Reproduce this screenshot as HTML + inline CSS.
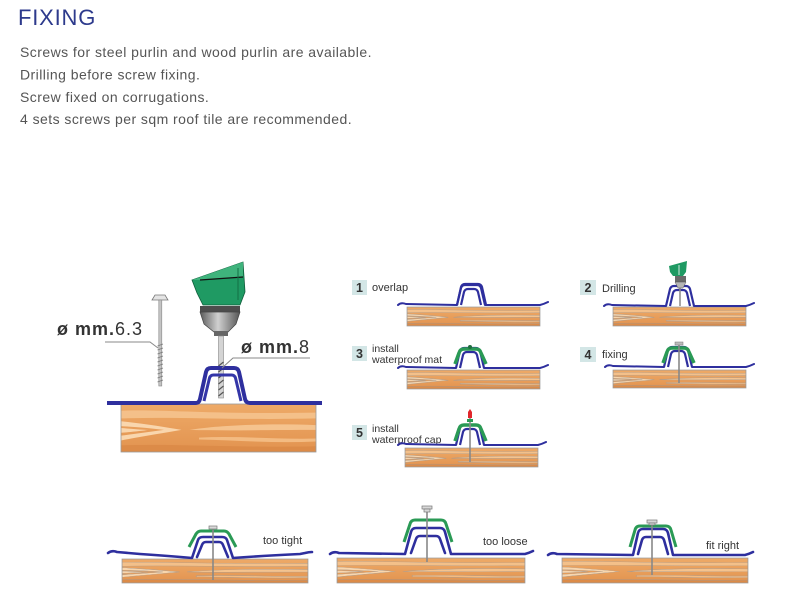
<!DOCTYPE html>
<html><head><meta charset="utf-8"><style>
html,body{margin:0;padding:0;background:#fff;}
svg{display:block;}
</style></head><body>
<svg width="800" height="600" viewBox="0 0 800 600" xmlns="http://www.w3.org/2000/svg" font-family="'Liberation Sans', Arial, sans-serif">
<defs>
<linearGradient id="wg" x1="0" y1="0" x2="0" y2="1">
<stop offset="0" stop-color="#eeaa68"/><stop offset="1" stop-color="#e2934f"/>
</linearGradient>
<linearGradient id="chk" x1="0" y1="0" x2="1" y2="0">
<stop offset="0" stop-color="#5a5a5a"/><stop offset="0.45" stop-color="#d0d0d0"/><stop offset="1" stop-color="#555"/>
</linearGradient>
<symbol id="wood" viewBox="0 0 200 50" preserveAspectRatio="none">
<rect x="0" y="0" width="200" height="50" fill="url(#wg)"/>
<path d="M0,7 C40,5 90,11 200,9 L200,15 C120,17 60,13 0,15 Z" fill="#f6c794" opacity="0.8"/>
<path d="M0,18 C20,20 45,24 62,27 C45,30 20,34 0,38 L0,33 C15,31 30,29 44,27 C30,25 15,24 0,23 Z" fill="#f9d6ad"/>
<path d="M0,25 C12,26 22,27 28,27 C22,28 12,29 0,30 Z" fill="#f9d6ad"/>
<path d="M70,27 C100,22 150,20 200,22 L200,27 C150,27 110,28 70,27 Z" fill="#f5c38e"/>
<path d="M80,35 C120,33 160,37 200,36 L200,39 C160,41 120,38 80,37 Z" fill="#f3bb82"/>
<path d="M0,43 C60,41 120,46 200,44 L200,50 L0,50 Z" fill="#dc8b48"/>
</symbol>
<g id="r" fill="none" stroke="#2e2f9e" stroke-width="2.2" stroke-linejoin="round">
<path d="M-14,0 L-10,-17 Q-9,-20 -6,-20 L6,-20 Q9,-20 10,-17 L14,0"/>
<path d="M-10,0 L-7,-13 Q-6,-16 -3,-16 L3,-16 Q6,-16 7,-13 L10,0"/>
</g>
</defs>

<!-- Header text -->
<text x="18" y="25" font-size="22" fill="#2d3a8c" letter-spacing="0.8">FIXING</text>
<g font-size="14" fill="#555" letter-spacing="0.45">
<text x="20" y="57">Screws for steel purlin and wood purlin are available.</text>
<text x="20" y="79.5">Drilling before screw fixing.</text>
<text x="20" y="102">Screw fixed on corrugations.</text>
<text x="20" y="124">4 sets screws per sqm roof tile are recommended.</text>
</g>

<!-- ===== MAIN FIGURE ===== -->
<use href="#wood" x="121" y="404" width="195" height="48"/>
<rect x="121" y="404" width="195" height="48" fill="none" stroke="#9a9a9a" stroke-width="0.8"/>
<!-- screw left -->
<polygon points="152,300 155,295 165,295 168,300" fill="#e4e4e4" stroke="#777" stroke-width="0.8"/>
<rect x="158.8" y="300" width="3" height="86" fill="#c4c4c4" stroke="#888" stroke-width="0.6"/>
<g stroke="#777" stroke-width="0.8">
<line x1="157.5" y1="346" x2="163" y2="344"/><line x1="157.5" y1="350" x2="163" y2="348"/><line x1="157.5" y1="354" x2="163" y2="352"/><line x1="157.5" y1="358" x2="163" y2="356"/><line x1="157.5" y1="362" x2="163" y2="360"/><line x1="157.5" y1="366" x2="163" y2="364"/><line x1="157.5" y1="370" x2="163" y2="368"/><line x1="157.5" y1="374" x2="163" y2="372"/><line x1="157.5" y1="378" x2="163" y2="376"/><line x1="157.5" y1="382" x2="163" y2="380"/>
</g>
<!-- leader 6.3 -->
<polyline points="105,342 150,342 158,348" fill="none" stroke="#888" stroke-width="1"/>
<text x="57" y="335" font-size="18" fill="#333" font-weight="bold" letter-spacing="1">ø mm.<tspan font-weight="normal">6.3</tspan></text>
<!-- drill -->
<polygon points="192,280 243,262 245,292 240,305 203,305 197,293" fill="#1f9a63" stroke="#0f5c3a" stroke-width="0.8"/>
<polygon points="192,280 243,262 243,277 200,280" fill="#3fb37c"/>
<line x1="200" y1="280" x2="243" y2="277" stroke="#111" stroke-width="1.2"/>
<line x1="238" y1="268" x2="238" y2="300" stroke="#137046" stroke-width="1"/>
<rect x="200" y="306" width="40" height="6" fill="#4d4d4d"/>
<polygon points="200,312 240,312 236,324 228,332 214,332 204,324" fill="url(#chk)" stroke="#444" stroke-width="0.7"/>
<rect x="214" y="331" width="14" height="5" fill="#666"/>
<rect x="218.5" y="336" width="5" height="62" fill="#d4d4d4" stroke="#888" stroke-width="0.6"/>
<g stroke="#555" stroke-width="1.2">
<line x1="218.5" y1="366" x2="223.5" y2="362"/><line x1="218.5" y1="372" x2="223.5" y2="368"/><line x1="218.5" y1="378" x2="223.5" y2="374"/><line x1="218.5" y1="384" x2="223.5" y2="380"/><line x1="218.5" y1="390" x2="223.5" y2="386"/><line x1="218.5" y1="396" x2="223.5" y2="392"/>
</g>
<!-- main sheet -->
<path d="M107,403 L196,403 Q199,403 200,399 L206,372 Q207,368 211,368 L234,368 Q238,368 239,372 L245,399 Q246,403 250,403 L322,403" fill="none" stroke="#2e2f9e" stroke-width="4" stroke-linejoin="round"/>
<path d="M204,401 L209.5,378 Q210.5,375 213.5,375 L231.5,375 Q234.5,375 235.5,378 L241,401" fill="none" stroke="#3436a8" stroke-width="3" stroke-linejoin="round"/>
<!-- leader 8 -->
<polyline points="310,358 233,358 222,368" fill="none" stroke="#888" stroke-width="1"/>
<text x="241" y="353" font-size="18" fill="#333" font-weight="bold" letter-spacing="1">ø mm.<tspan font-weight="normal">8</tspan></text>

<!-- ===== SMALL PANELS ===== -->
<g font-size="11" fill="#333">
<rect x="352" y="280" width="15" height="15" fill="#d3e6e6"/><text x="359.5" y="292" text-anchor="middle" font-weight="bold" font-size="12.5">1</text>
<text x="372" y="291">overlap</text>
<rect x="580" y="280" width="16" height="15" fill="#d3e6e6"/><text x="588" y="292" text-anchor="middle" font-weight="bold" font-size="12.5">2</text>
<text x="602" y="292">Drilling</text>
<rect x="352" y="346" width="15" height="15" fill="#d3e6e6"/><text x="359.5" y="358" text-anchor="middle" font-weight="bold" font-size="12.5">3</text>
<text x="372" y="352" font-size="10.5">install</text><text x="372" y="363" font-size="10.5">waterproof mat</text>
<rect x="580" y="347" width="16" height="15" fill="#d3e6e6"/><text x="588" y="359" text-anchor="middle" font-weight="bold" font-size="12.5">4</text>
<text x="602" y="358">fixing</text>
<rect x="352" y="425" width="15" height="15" fill="#d3e6e6"/><text x="359.5" y="437" text-anchor="middle" font-weight="bold" font-size="12.5">5</text>
<text x="372" y="432" font-size="10.5">install</text><text x="372" y="443" font-size="10.5">waterproof cap</text>
</g>

<!-- woods -->
<g stroke="#9a9a9a" stroke-width="0.7" fill="none">
<use href="#wood" x="407" y="307" width="133" height="19"/><rect x="407" y="307" width="133" height="19"/>
<use href="#wood" x="613" y="307" width="133" height="19"/><rect x="613" y="307" width="133" height="19"/>
<use href="#wood" x="407" y="370" width="133" height="19"/><rect x="407" y="370" width="133" height="19"/>
<use href="#wood" x="613" y="370" width="133" height="18"/><rect x="613" y="370" width="133" height="18"/>
<use href="#wood" x="405" y="448" width="133" height="19"/><rect x="405" y="448" width="133" height="19"/>
</g>

<!-- sheets flat -->
<g fill="none" stroke="#2e2f9e" stroke-width="2" stroke-linecap="round">
<path d="M398,305 q3,-3 8,-1 L457,305 M485,305 L540,305 q4,-1 8,-3"/>
<path d="M604,306 q3,-3 8,-1 L666,306 M694,306 L746,306 q4,-1 8,-3"/>
<path d="M398,368 q3,-3 8,-1 L456,368 M484,368 L540,368 q4,-1 8,-3"/>
<path d="M605,367 q3,-3 8,-1 L664,367 M692,367 L746,367 q4,-1 8,-3"/>
<path d="M398,445 q3,-3 8,-1 L456,445 M484,445 L538,445 q4,-1 8,-3"/>
</g>

<!-- P1 overlap -->
<use href="#r" transform="translate(471,305)"/>
<path d="M457,305 L461,287 Q462,284 465,284 L478,284 Q481,284 482,287 L486,305" fill="none" stroke="#2e2f9e" stroke-width="2.2"/>

<!-- P2 drilling -->
<use href="#r" transform="translate(680,306)"/>
<line x1="680" y1="286" x2="680" y2="306" stroke="#888" stroke-width="1.5"/>
<rect x="675" y="276" width="11" height="6" fill="#6a6a6a"/>
<polygon points="675,282 686,282 683,288 678,288" fill="#b5b5b5" stroke="#555" stroke-width="0.5"/>
<polygon points="669,266 687,261 686,272 683,276 673,276 670,272" fill="#1f9a63"/>
<line x1="679" y1="265" x2="679" y2="275" stroke="#fff" stroke-width="0.8"/>

<!-- P3 mat -->
<use href="#r" transform="translate(470,368)"/>
<path d="M455,364 L459,353 Q460,349 464,349 L476,349 Q480,349 481,353 L486,364" fill="none" stroke="#2a9a55" stroke-width="3.5" stroke-linejoin="round"/>
<circle cx="470" cy="347" r="2" fill="#1f6e3e"/>

<!-- P4 fixing -->
<use href="#r" transform="translate(678,367)"/>
<path d="M663,363 L667,352 Q668,348 672,348 L684,348 Q688,348 689,352 L694,363" fill="none" stroke="#2a9a55" stroke-width="3.5" stroke-linejoin="round"/>
<line x1="679" y1="344" x2="679" y2="383" stroke="#888" stroke-width="1.6"/>
<rect x="675" y="342" width="8" height="3" fill="#bbb" stroke="#777" stroke-width="0.5"/>

<!-- P5 cap -->
<use href="#r" transform="translate(470,445)"/>
<path d="M455,441 L459,429 Q460,425 464,425 L476,425 Q480,425 481,429 L486,441" fill="none" stroke="#2a9a55" stroke-width="3.5" stroke-linejoin="round"/>
<line x1="470" y1="418" x2="470" y2="462" stroke="#888" stroke-width="1.6"/>
<rect x="467" y="419" width="6" height="3" fill="#2a9a55"/>
<polygon points="468,418 472,418 472,412 470,409 468,412" fill="#e0262b"/>

<!-- ===== BOTTOM ROW ===== -->
<g stroke="#9a9a9a" stroke-width="0.7" fill="none">
<use href="#wood" x="122" y="559" width="186" height="24"/><rect x="122" y="559" width="186" height="24"/>
<use href="#wood" x="337" y="558" width="188" height="25"/><rect x="337" y="558" width="188" height="25"/>
<use href="#wood" x="562" y="558" width="186" height="25"/><rect x="562" y="558" width="186" height="25"/>
</g>

<g fill="none" stroke="#2e2f9e" stroke-width="2.6" stroke-linejoin="round" stroke-linecap="round">
<path d="M108,553 q4,-3 9,-1 L140,554 Q170,556 192,558 L198,540 Q199,537 203,537 L222,537 Q226,537 227,540 L233,558 Q260,556 300,554 L305,553 q4,-1 7,-1"/>
<path d="M197,557 L202,545 Q203,542 206,542 L219,542 Q222,542 223,545 L228,557"/>
<path d="M330,554 q4,-3 9,-1 L405,554 L411,532 Q412,528 416,528 L440,528 Q444,528 445,532 L451,554 L525,554 q4,-1 8,-3"/>
<path d="M411,553 L416,539 Q417,536 420,536 L436,536 Q439,536 440,539 L445,553"/>
<path d="M548,555 q4,-3 9,-1 L633,555 L638,533 Q639,529 643,529 L663,529 Q667,529 668,533 L673,555 L745,555 q4,-1 8,-3"/>
<path d="M638,554 L642,540 Q643,537 646,537 L660,537 Q663,537 664,540 L668,554"/>
</g>

<g fill="none" stroke="#2a9a55" stroke-width="3" stroke-linejoin="round">
<path d="M189,547 L196,534 Q198,531 201,531 L224,531 Q227,531 229,534 L236,547"/>
<path d="M404,542 L410,524 Q411,520 415,520 L441,520 Q445,520 446,524 L452,542"/>
<path d="M630,547 L635,530 Q636,526 640,526 L666,526 Q670,526 671,530 L676,547"/>
</g>

<g stroke="#888" stroke-width="1.6">
<line x1="213" y1="528" x2="213" y2="580"/>
<line x1="427" y1="511" x2="427" y2="562"/>
<line x1="652" y1="523" x2="652" y2="575"/>
</g>
<g fill="#d8d8d8" stroke="#777" stroke-width="0.7">
<rect x="209" y="526" width="8" height="3"/>
<rect x="422" y="506" width="10" height="3"/><rect x="424" y="509" width="6" height="3"/>
<rect x="647" y="520" width="10" height="3"/><rect x="649" y="523" width="6" height="2"/>
</g>

<g font-size="11" fill="#333">
<text x="263" y="544">too tight</text>
<text x="483" y="545">too loose</text>
<text x="706" y="549">fit right</text>
</g>
</svg>
</body></html>
